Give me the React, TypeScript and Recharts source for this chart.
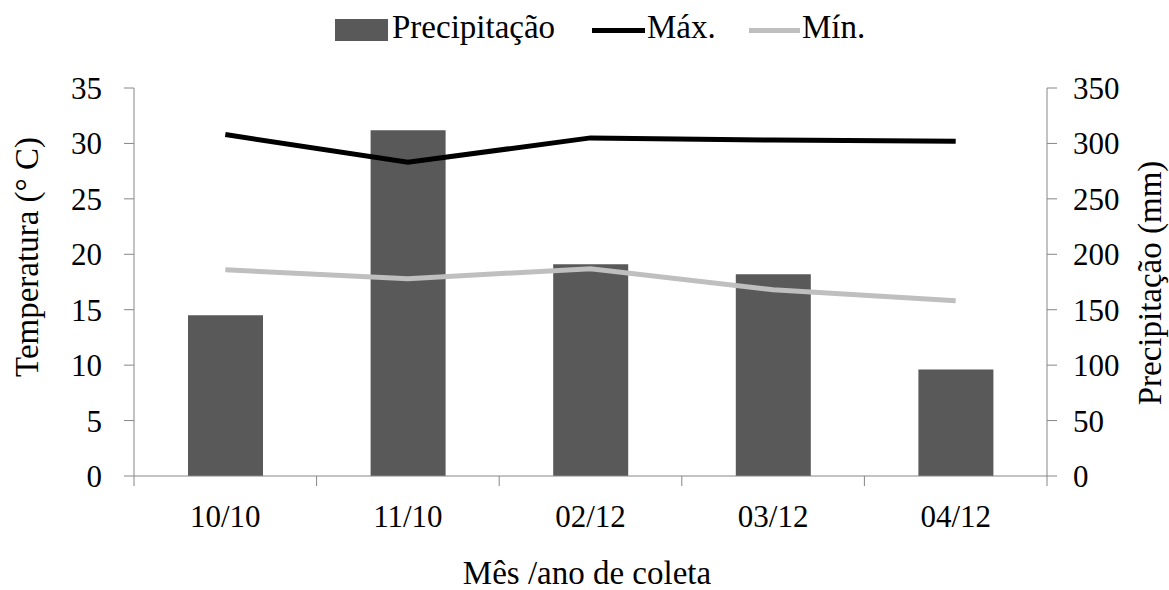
import React from 'react';
import { ComposedChart, Bar, Line, XAxis, YAxis } from 'recharts';

// Collection months
const categories = ['10/10', '11/10', '02/12', '03/12', '04/12'];
// Monthly rainfall (mm)
const precipitacao = [145, 312, 191, 182, 96];
// Maximum / minimum temperature (°C)
const tempMax = [30.8, 28.3, 30.5, 30.3, 30.2];
const tempMin = [18.6, 17.8, 18.7, 16.8, 15.8];

const tempTicks = [0, 5, 10, 15, 20, 25, 30, 35];
const precTicks = [0, 50, 100, 150, 200, 250, 300, 350];

const data = categories.map((mes, i) => ({
  mes,
  precipitacao: precipitacao[i],
  max: tempMax[i],
  min: tempMin[i],
}));

const FONT = '"Liberation Serif", "Times New Roman", serif';
const FS = 31; // tick labels
const FT = 33; // titles and legend
const AXIS = '#868686';
const BAR = '#595959';
const MIN = '#BFBFBF';

// Category tick: label centred in the band, tick mark on the band's left edge
// (and the right edge for the last category).
function MonthTick(props: any) {
  const { x, y, payload, index, visibleTicksCount } = props;
  const half = payload?.offset ?? 0;
  const axisY = y - 10;
  const isLast = index === (visibleTicksCount ?? categories.length) - 1;
  return (
    <g>
      <line x1={x - half} x2={x - half} y1={axisY} y2={axisY + 10} stroke={AXIS} />
      {isLast && <line x1={x + half} x2={x + half} y1={axisY} y2={axisY + 10} stroke={AXIS} />}
      <text x={x} y={y + 19} dy="0.71em" textAnchor="middle" fill="#000" fontSize={FS} fontFamily={FONT}>
        {payload.value}
      </text>
    </g>
  );
}

const tickStyle = { fill: '#000', fontSize: FS, fontFamily: FONT };

export default function App() {
  return (
    <div style={{ position: 'absolute', left: 0, top: 0, width: 1169, height: 590, background: '#fff', fontFamily: FONT }}>
      <ComposedChart
        width={1169}
        height={590}
        data={data}
        margin={{ top: 88, right: 0, bottom: 0, left: 0 }}
      >
        <XAxis
          dataKey="mes"
          height={114}
          axisLine={{ stroke: AXIS }}
          tickLine={false}
          tickSize={10}
          tickMargin={0}
          tick={<MonthTick />}
          interval={0}
        />
        <YAxis
          yAxisId="temp"
          orientation="left"
          width={134}
          domain={[0, 35]}
          ticks={tempTicks}
          interval={0}
          axisLine={{ stroke: AXIS }}
          tickLine={{ stroke: AXIS }}
          tickSize={10}
          tickMargin={22}
          tick={tickStyle}
        />
        <YAxis
          yAxisId="prec"
          orientation="right"
          width={122}
          domain={[0, 350]}
          ticks={precTicks}
          interval={0}
          axisLine={{ stroke: AXIS }}
          tickLine={{ stroke: AXIS }}
          tickSize={10}
          tickMargin={16}
          tick={tickStyle}
        />
        <Bar yAxisId="prec" dataKey="precipitacao" fill={BAR} barSize={75} isAnimationActive={false} />
        <Line yAxisId="temp" dataKey="max" stroke="#000" strokeWidth={5} dot={false} type="linear" isAnimationActive={false} />
        <Line yAxisId="temp" dataKey="min" stroke={MIN} strokeWidth={5} dot={false} type="linear" isAnimationActive={false} />
      </ComposedChart>

      {/* Axis titles */}
      <svg
        width={1169}
        height={590}
        style={{ position: 'absolute', left: 0, top: 0, pointerEvents: 'none' }}
        fontFamily={FONT}
        fontSize={FT}
        fill="#000"
      >
        <text x={587} y={584} textAnchor="middle">Mês /ano de coleta</text>
        <text transform="translate(27,257) rotate(-90)" textAnchor="middle" dominantBaseline="central">
          Temperatura (° C)
        </text>
        <text transform="translate(1150,283) rotate(-90)" textAnchor="middle" dominantBaseline="central">
          Precipitação (mm)
        </text>
      </svg>

      {/* Legend */}
      <div style={{ position: 'absolute', left: 335, top: 19, width: 53, height: 22, background: BAR }} />
      <div style={{ position: 'absolute', left: 392, top: 7, fontSize: FT, lineHeight: '40px', color: '#000' }}>Precipitação</div>
      <div style={{ position: 'absolute', left: 592, top: 28, width: 53, height: 5, background: '#000' }} />
      <div style={{ position: 'absolute', left: 647, top: 7, fontSize: FT, lineHeight: '40px', color: '#000' }}>Máx.</div>
      <div style={{ position: 'absolute', left: 749, top: 28, width: 51, height: 5, background: MIN }} />
      <div style={{ position: 'absolute', left: 802, top: 7, fontSize: FT, lineHeight: '40px', color: '#000' }}>Mín.</div>
    </div>
  );
}
